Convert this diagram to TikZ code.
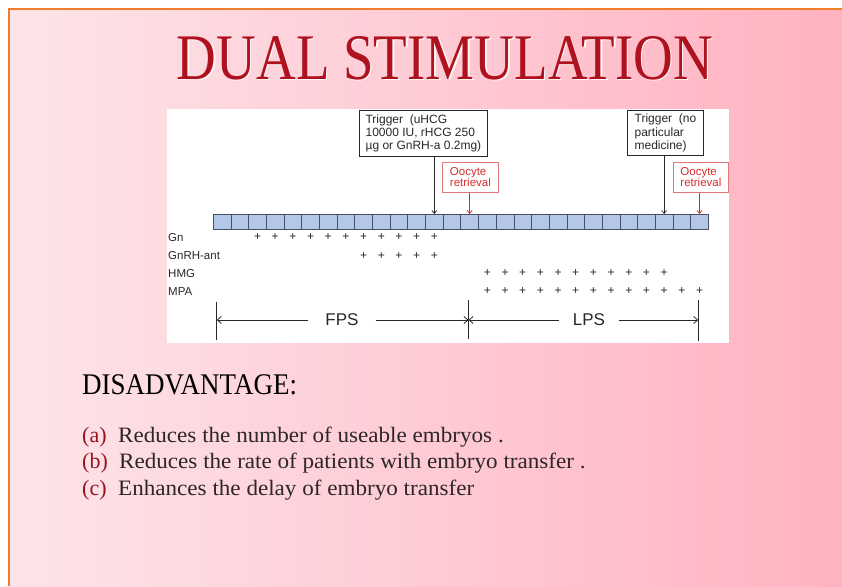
\documentclass[tikz,border=0pt]{standalone}
\usepackage{fontspec}
\setmainfont{Liberation Serif}
\newfontfamily\timesf{Liberation Serif}
\newfontfamily\arialf{Liberation Sans}
\usetikzlibrary{arrows.meta}
\definecolor{titlered}{RGB}{175,18,30}
\definecolor{shadowc}{RGB}{255,245,247}
\definecolor{pinkL}{RGB}{253,228,233}
\definecolor{pinkR}{RGB}{255,178,192}
\definecolor{borderor}{RGB}{240,125,45}
\definecolor{cellfill}{RGB}{180,199,231}
\definecolor{celldraw}{RGB}{70,82,105}
\definecolor{dtext}{RGB}{40,40,40}
\definecolor{ored}{RGB}{215,45,45}
\definecolor{oline}{RGB}{225,120,120}
\definecolor{lbl}{RGB}{150,20,30}
\definecolor{ltext}{RGB}{45,38,40}
\tikzset{
  titlestyle/.style={font=\timesf\fontsize{65}{65}\selectfont, text=titlered, xscale=0.846, inner sep=0, anchor=base},
  cellbox/.style={draw=celldraw, fill=cellfill, line width=0.7pt, minimum width=17.68pt, minimum height=15pt, inner sep=0, outer sep=0},
  rowlabel/.style={font=\arialf\fontsize{11.5}{13}\selectfont, text=dtext, anchor=west, inner sep=0},
  plus/.style={font=\arialf\fontsize{12}{12}\selectfont, text=dtext, inner sep=0},
  tbox/.style={draw=dtext, line width=0.8pt, fill=white, font=\arialf\fontsize{12}{13.3}\selectfont, text=dtext, align=left, anchor=north west, inner sep=3pt},
  obox/.style={draw=oline, line width=0.8pt, fill=white, font=\arialf\fontsize{11.5}{11.5}\selectfont, text=ored, align=left, anchor=north west, inner sep=4pt},
  tarr/.style={-{Straight Barb[length=3pt,width=5pt]}, draw=dtext, line width=0.7pt},
  oarr/.style={-{Straight Barb[length=3pt,width=5pt]}, draw=ored, line width=0.7pt},
  phase/.style={font=\arialf\fontsize{17}{17}\selectfont, text=dtext, inner ysep=0},
  parr/.style={-{Straight Barb[length=4pt,width=7pt]}, draw=dtext, line width=0.8pt},
  bar/.style={draw=dtext, line width=1pt},
  listlbl/.style={font=\timesf\fontsize{22}{22}\selectfont, text=lbl, anchor=base west, inner sep=0},
  listtxt/.style={font=\timesf\fontsize{22}{22}\selectfont, text=ltext, anchor=base west, inner sep=0, xscale=1.05},
}
\begin{document}
\begin{tikzpicture}[x=1pt,y=-1pt]
\useasboundingbox (0,0) rectangle (842,586);
\fill[white] (0,0) rectangle (842,586);
\shade[left color=pinkL, right color=pinkR] (9,9) rectangle (842,586);
\draw[borderor, line width=2.2pt] (9,586) -- (9,9) -- (842,9);

% title
\node[titlestyle, text=shadowc] (titleshadow) at (446.3,80.3) {DUAL STIMULATION};
\node[titlestyle] (title) at (445,79) {DUAL STIMULATION};

% diagram panel
\fill[white] (167,109) rectangle (728.5,342.5);

% cells
\foreach \i in {0,...,27}
  \node[cellbox] (c\i) at ({213.3+17.68*(\i+0.5)},221.5) {};

% row labels
\node[rowlabel] (lgn) at (168,238) {Gn};
\node[rowlabel] (lgnrh) at (168,256) {GnRH-ant};
\node[rowlabel] (lhmg) at (168,273.5) {HMG};
\node[rowlabel] (lmpa) at (168,291.5) {MPA};

% plus signs
\foreach \i in {2,...,12}
  \node[plus] (pgn\i) at ({213.3+17.68*(\i+0.5)},237.5) {+};
\foreach \i in {8,...,12}
  \node[plus] (pgr\i) at ({213.3+17.68*(\i+0.5)},256) {+};
\foreach \i in {15,...,25}
  \node[plus] (phm\i) at ({213.3+17.68*(\i+0.5)},273.5) {+};
\foreach \i in {15,...,27}
  \node[plus] (pmp\i) at ({213.3+17.68*(\i+0.5)},291.5) {+};

% trigger / retrieval boxes
\node[tbox, minimum width=127.4pt, minimum height=46pt] (t1) at (359.3,110) {Trigger\ \ (uHCG\\10000 IU, rHCG 250\\µg or GnRH-a 0.2mg)};
\node[tbox, minimum width=76.6pt, minimum height=45pt] (t2) at (626.7,110) {Trigger\ \ (no\\particular\\medicine)};
\node[obox, minimum width=56.6pt, minimum height=30pt] (o1) at (441.7,161.7) {Oocyte\\retrieval};
\node[obox, minimum width=55pt, minimum height=30pt] (o2) at (673,161.7) {Oocyte\\retrieval};

\draw[tarr] (c12.north |- t1.south) -- (c12.north);
\draw[oarr] (c14.north |- o1.south) -- (c14.north);
\draw[tarr] (c25.north |- t2.south) -- (c25.north);
\draw[oarr] (c27.north |- o2.south) -- (c27.north);

% phase bars
\coordinate (bl1) at (216.7,302);
\coordinate (bl2) at (216.7,340);
\coordinate (bm1) at (468.5,300);
\coordinate (bm2) at (468.5,339);
\coordinate (br1) at (698.3,300);
\coordinate (br2) at (698.3,341);
\coordinate (al) at (216.7,320);
\coordinate (am) at (468.5,320);
\coordinate (ar) at (698.3,320);
\draw[bar] (bl1) -- (bl2);
\draw[bar] (bm1) -- (bm2);
\draw[bar] (br1) -- (br2);
\node[phase, inner xsep=17pt] (fps) at (342,320) {FPS};
\node[phase, inner xsep=13.5pt] (lps) at (589,320) {LPS};
\draw[parr] (fps.west) -- (al);
\draw[parr] (fps.east) -- (am);
\draw[parr] (lps.west) -- (am);
\draw[parr] (lps.east) -- (ar);

% disadvantages
\node[font=\timesf\fontsize{30}{30}\selectfont, text=black, anchor=base west, inner sep=0, xscale=0.9] (dis) at (82,394) {DISADVANTAGE:};
\node[listlbl] (la) at (82,442) {(a)};
\node[listtxt] (ta) at (118,442) {Reduces the number of useable embryos .};
\node[listlbl] (lb) at (82,468.5) {(b)};
\node[listtxt] (tb) at (119,468.5) {Reduces the rate of patients with embryo transfer .};
\node[listlbl] (lc) at (82,495) {(c)};
\node[listtxt] (tc) at (118,495) {Enhances the delay of embryo transfer};
\end{tikzpicture}
\end{document}
